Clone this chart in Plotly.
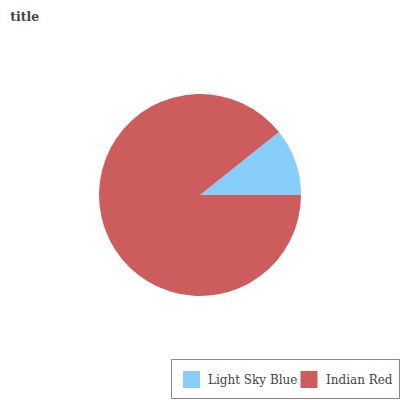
import plotly.graph_objects as go

labels = ["Light Sky Blue", "Indian Red"]
values = [3, 25]
colors = ["#87CEFA", "#CD5C5C"]

W, H = 400, 400
ML, MR, MT, MB = 99, 99, 94, 104
PW, PH = W - ML - MR, H - MT - MB

def px(x):
    return (x - ML) / PW

def py(y):
    return (H - MB - y) / PH

start = 90 - 360 * values[0] / sum(values)

fig = go.Figure(go.Pie(
    labels=labels, values=values,
    marker=dict(colors=colors),
    sort=False, direction="clockwise", rotation=start,
    textinfo="none", hoverinfo="label+value", showlegend=False,
))

# legend (drawn as layout shapes + text)
legend_box = (171.5, 359.5, 399.5, 398.5)
swatch_x = [183, 300.5]
text_x = [206, 323.5]
sw_top, sw_size = 371, 17
shapes = [dict(type="rect", xref="paper", yref="paper",
               x0=px(legend_box[0]), x1=px(legend_box[2]),
               y0=py(legend_box[3]), y1=py(legend_box[1]),
               line=dict(color="#888888", width=1), fillcolor="rgba(0,0,0,0)")]
annotations = []
for lab, col, sx, tx in zip(labels, colors, swatch_x, text_x):
    shapes.append(dict(type="rect", xref="paper", yref="paper",
                       x0=px(sx), x1=px(sx + sw_size),
                       y0=py(sw_top + sw_size), y1=py(sw_top),
                       line=dict(width=0), fillcolor=col))
    annotations.append(dict(text=lab, xref="paper", yref="paper",
                            x=px(tx), y=py(sw_top + sw_size / 2),
                            xanchor="left", yanchor="middle", showarrow=False,
                            font=dict(family="DejaVu Serif", size=12, color="#444444")))

fig.update_layout(
    width=W, height=H,
    margin=dict(l=ML, r=MR, t=MT, b=MB, autoexpand=False),
    paper_bgcolor="white", plot_bgcolor="white",
    font=dict(family="DejaVu Serif", color="#444444", size=12),
    title=dict(text="<b>title</b>", xref="container", x=0.0255, xanchor="left",
               y=0.958, yanchor="middle",
               font=dict(family="DejaVu Serif", size=12.5, color="#444444")),
    shapes=shapes, annotations=annotations,
    showlegend=False,
)

fig.write_html("out.html", config={"displayModeBar": False},
               post_script="document.body.style.margin='0';")
